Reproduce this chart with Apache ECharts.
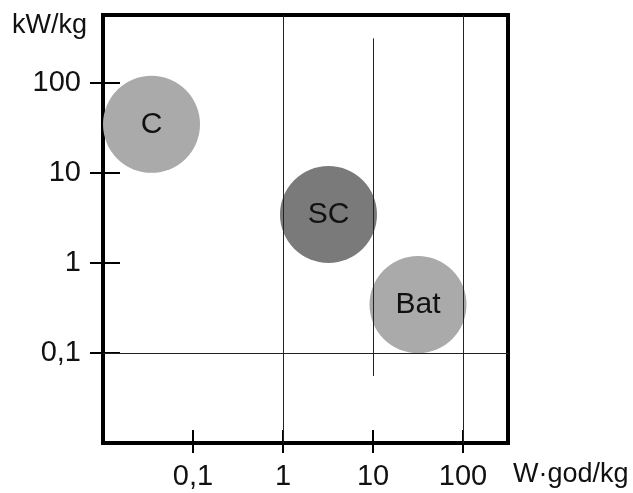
<!DOCTYPE html>
<html>
<head>
<meta charset="utf-8">
<script src="https://cdn.jsdelivr.net/npm/echarts@6/dist/echarts.min.js"></script>
<style>
  html, body { margin: 0; padding: 0; background: #fff; }
  #chart { width: 633px; height: 493px; }
</style>
</head>
<body>
<div id="chart"></div>
<script>
// bubbles
const categories = ['C', 'SC', 'Bat'];
const energyDensity = [0.0346, 3.2, 31.6];   // W·god/kg
const powerDensity = [34.5, 3.44, 0.344];    // kW/kg
const bubbleColors = ['#aaaaaa', '#7a7a7a', '#aaaaaa'];

// axes
const xTickValues = [0.1, 1, 10, 100];
const xTickLabels = ['0,1', '1', '10', '100'];
const yTickValues = [0.1, 1, 10, 100];
const yTickLabels = ['0,1', '1', '10', '100'];

// guide lines
const fullLinesX = [1, 100];
const fullLinesY = [0.1];
const partialLineX = [10, 0.0555, 311]; // x, y from, y to

const font = 'Liberation Sans, Arial, sans-serif';

const labelOf = (values, labels) => (v) => {
  for (let i = 0; i < values.length; i++) {
    if (Math.abs(Math.log10(v) - Math.log10(values[i])) < 1e-6) return labels[i];
  }
  return '';
};

const chart = echarts.init(document.getElementById('chart'));

const xBase = {
  type: 'log',
  logBase: 10,
  min: 0.01,
  max: 316,
  position: 'bottom',
  splitLine: { show: false },
  axisLine: { lineStyle: { color: '#000', width: 4 } }
};
const yBase = {
  type: 'log',
  logBase: 10,
  min: 0.01,
  max: 565,
  position: 'left',
  splitLine: { show: false },
  axisLine: { lineStyle: { color: '#000', width: 4 } }
};

const option = {
  animation: false,
  grid: {
    left: 103, top: 15, width: 405, height: 428,
    show: true, borderColor: '#000', borderWidth: 4, backgroundColor: 'transparent'
  },
  xAxis: [
    Object.assign({}, xBase, {
      axisTick: { customValues: xTickValues, inside: true, length: 13, lineStyle: { color: '#000', width: 2 } },
      axisLabel: {
        customValues: xTickValues,
        formatter: labelOf(xTickValues, xTickLabels),
        margin: 19, fontSize: 29, color: '#111', fontFamily: font
      }
    }),
    Object.assign({}, xBase, {
      axisTick: { customValues: xTickValues, inside: false, length: 10, lineStyle: { color: '#000', width: 2 } },
      axisLabel: { show: false }
    })
  ],
  yAxis: [
    Object.assign({}, yBase, {
      axisTick: { customValues: yTickValues, inside: true, length: 17, lineStyle: { color: '#000', width: 2 } },
      axisLabel: {
        customValues: yTickValues,
        formatter: labelOf(yTickValues, yTickLabels),
        margin: 22, fontSize: 29, color: '#111', fontFamily: font
      }
    }),
    Object.assign({}, yBase, {
      axisTick: { customValues: yTickValues, inside: false, length: 13, lineStyle: { color: '#000', width: 2 } },
      axisLabel: { show: false }
    })
  ],
  graphic: [
    { type: 'text', left: 12, top: 12, style: { text: 'kW/kg', fontSize: 27, fontFamily: font, fill: '#111' } },
    { type: 'text', left: 513, top: 461, style: { text: 'W·god/kg', fontSize: 27, fontFamily: font, fill: '#111' } }
  ],
  series: [
    {
      type: 'scatter',
      xAxisIndex: 0,
      yAxisIndex: 0,
      z: 1,
      data: [],
      markLine: {
        silent: true,
        symbol: 'none',
        label: { show: false },
        lineStyle: { color: '#222', width: 1, type: 'solid' },
        data: [
          ...fullLinesX.map(v => ({ xAxis: v })),
          ...fullLinesY.map(v => ({ yAxis: v })),
          [
            { coord: [partialLineX[0], partialLineX[1]] },
            { coord: [partialLineX[0], partialLineX[2]] }
          ]
        ]
      }
    },
    {
      type: 'scatter',
      xAxisIndex: 0,
      yAxisIndex: 0,
      z: 3,
      symbolSize: 97,
      data: categories.map((name, i) => ({
        name: name,
        value: [energyDensity[i], powerDensity[i]],
        itemStyle: { color: bubbleColors[i], opacity: 1 }
      })),
      label: {
        show: true,
        position: 'inside',
        formatter: '{b}',
        fontSize: 30,
        color: '#111',
        fontFamily: font
      }
    }
  ]
};

chart.setOption(option);
</script>
</body>
</html>
